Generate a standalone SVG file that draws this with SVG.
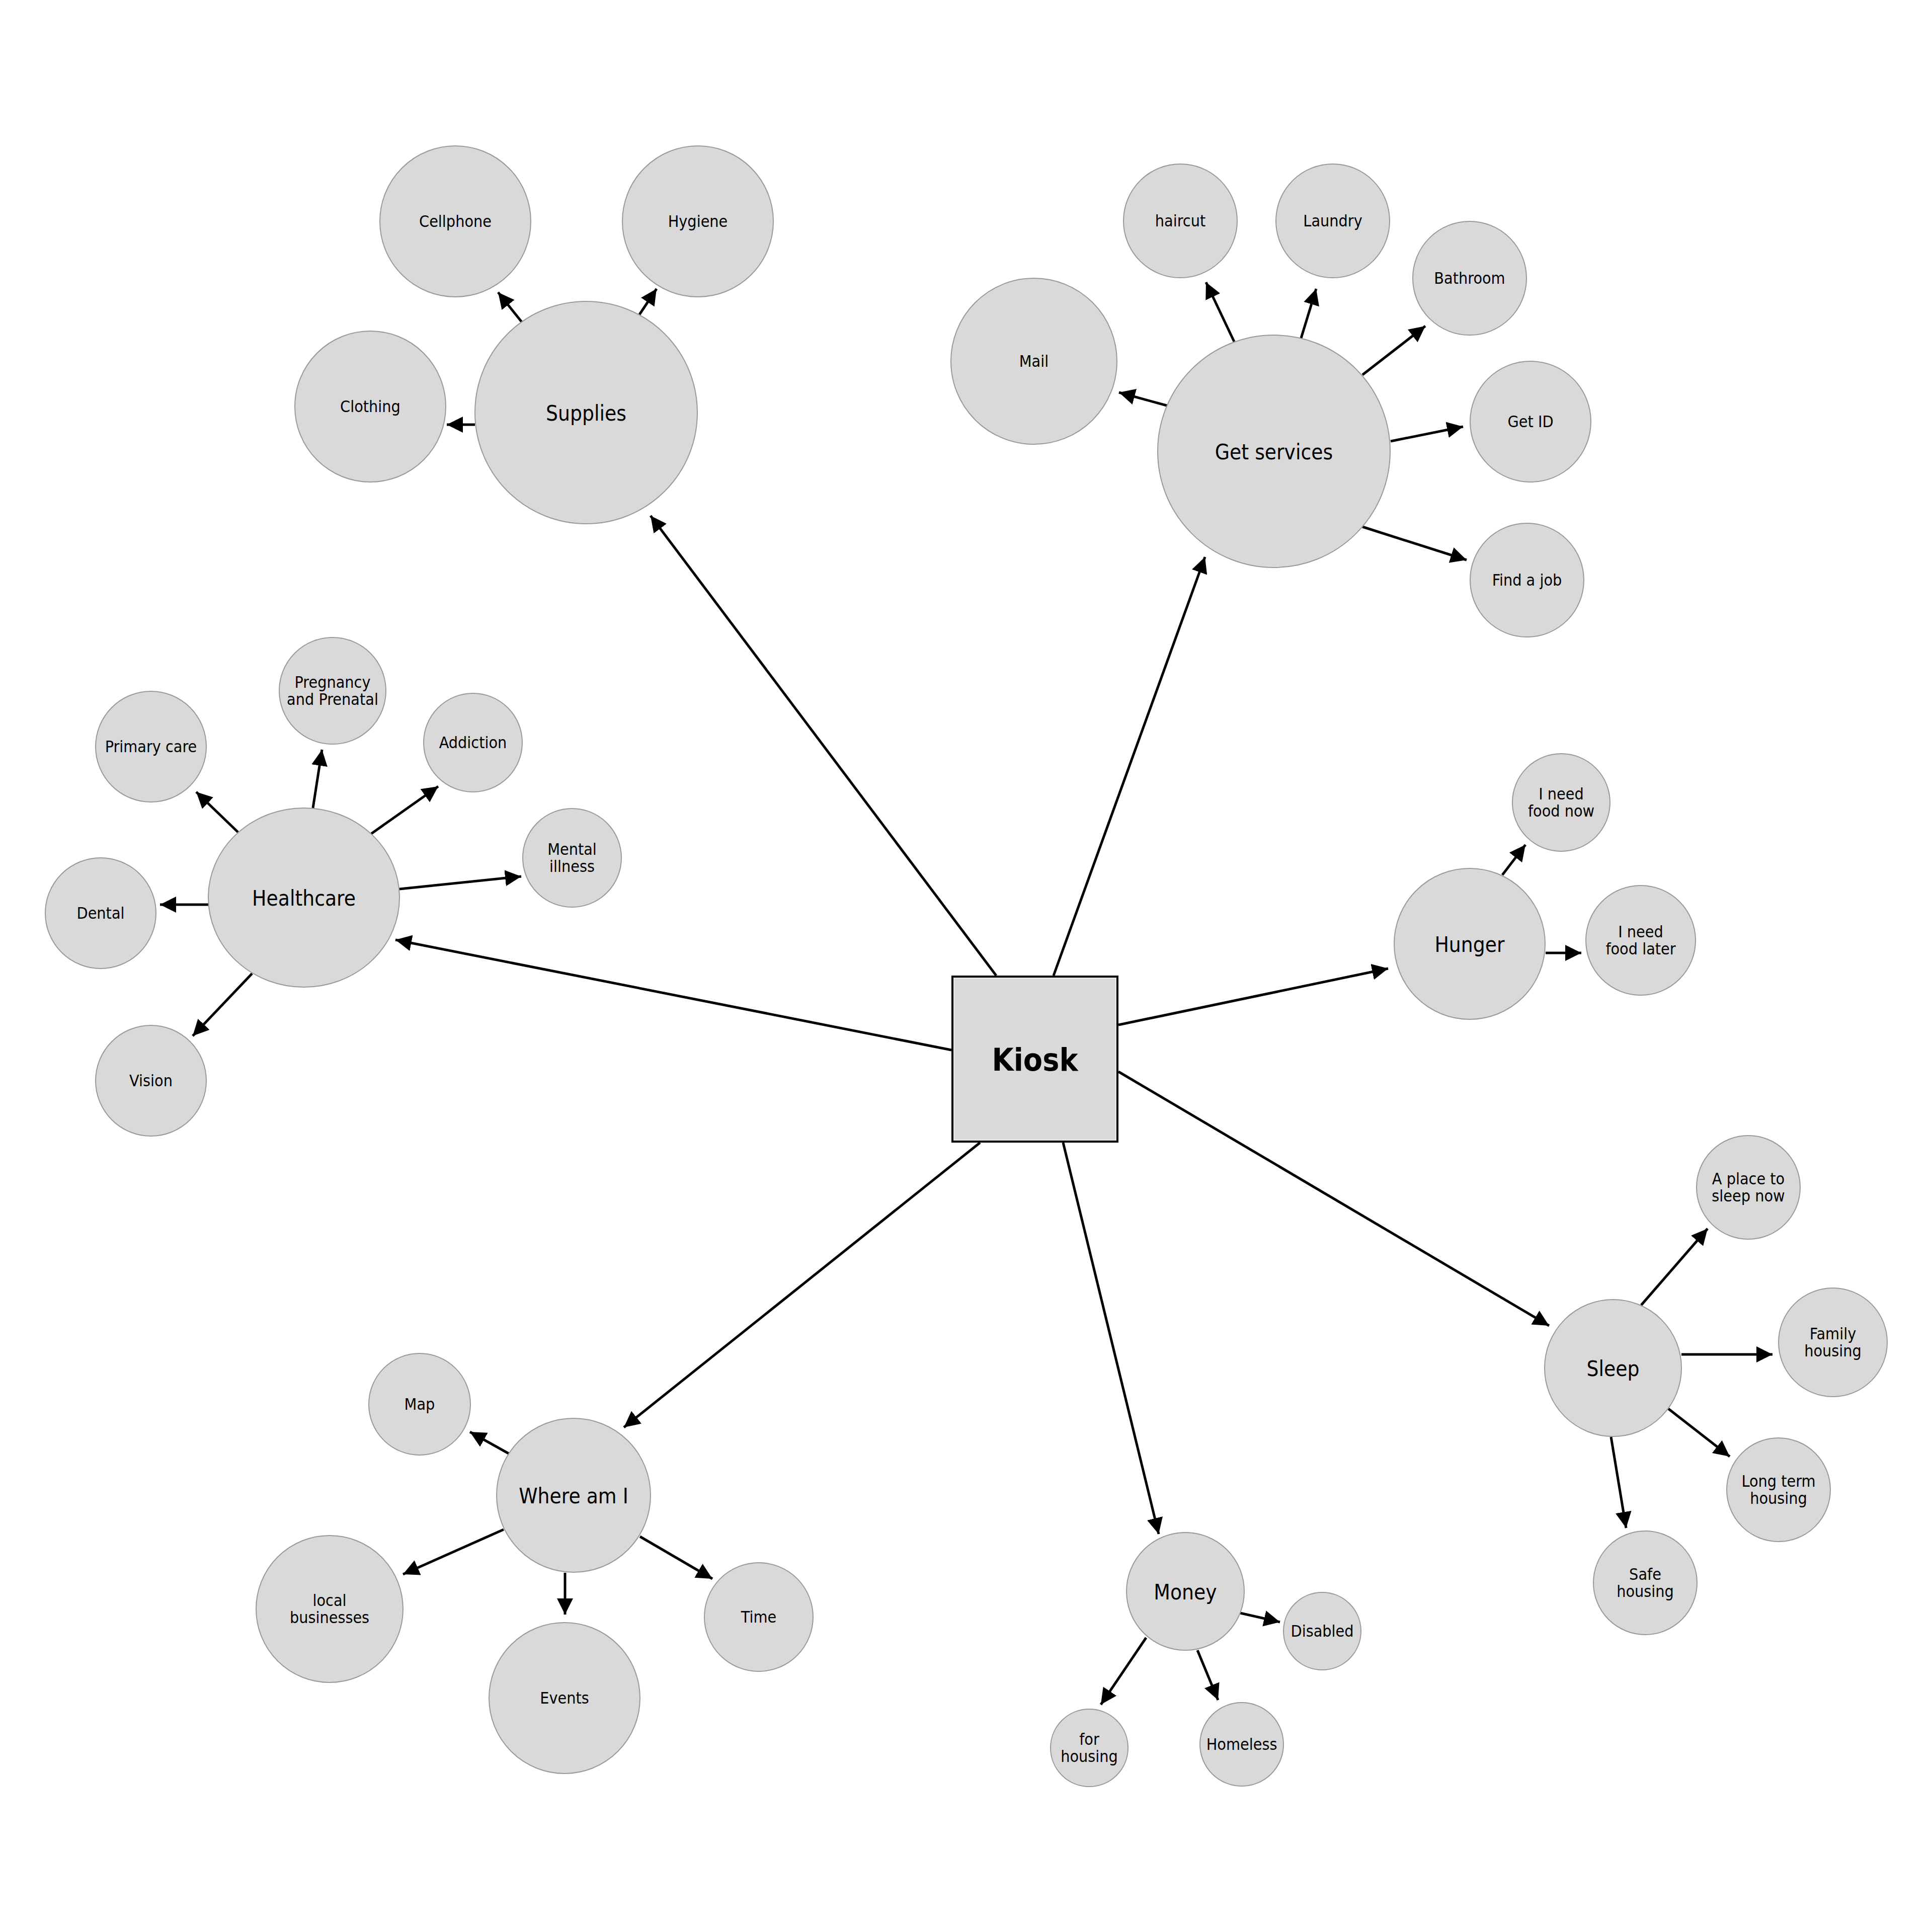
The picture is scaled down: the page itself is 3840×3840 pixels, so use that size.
<svg xmlns="http://www.w3.org/2000/svg" width="3840" height="3840" viewBox="0 0 3840 3840">
<style>
.n{fill:#d9d9d9;stroke:#999;stroke-width:2}
.t{font-family:"DejaVu Sans Condensed","Liberation Sans",sans-serif;font-size:32px;text-anchor:middle;fill:#000}
.tp{font-size:42px}
.tk{font-size:62px;font-weight:bold}
.c{stroke:#000;stroke-width:5;fill:none;marker-end:url(#ah)}
</style>
<defs>
<marker id="ah" markerUnits="userSpaceOnUse" markerWidth="32" markerHeight="32" refX="32" refY="16" orient="auto">
<path d="M0,0 L32,16 L0,32 z" fill="#000"/>
</marker>
</defs>
<rect width="3840" height="3840" fill="#fff"/>
<g id="connectors">
<line class="c" x1="1980" y1="1939" x2="1293" y2="1025"/>
<line class="c" x1="2094" y1="1939" x2="2395" y2="1107"/>
<line class="c" x1="1891" y1="2087" x2="786" y2="1868"/>
<line class="c" x1="2223" y1="2037" x2="2759" y2="1925"/>
<line class="c" x1="2223" y1="2130" x2="3079" y2="2635"/>
<line class="c" x1="2113" y1="2271" x2="2303" y2="3049"/>
<line class="c" x1="1948" y1="2271" x2="1240" y2="2837"/>
<line class="c" x1="1037" y1="640" x2="990" y2="581"/>
<line class="c" x1="1271" y1="625" x2="1305" y2="574"/>
<line class="c" x1="944" y1="844" x2="888" y2="844"/>
<line class="c" x1="2319" y1="806" x2="2224" y2="780"/>
<line class="c" x1="2453" y1="679" x2="2397" y2="561"/>
<line class="c" x1="2586" y1="672" x2="2616" y2="574"/>
<line class="c" x1="2708" y1="745" x2="2833" y2="648"/>
<line class="c" x1="2764" y1="877" x2="2908" y2="848"/>
<line class="c" x1="2708" y1="1047" x2="2915" y2="1113"/>
<line class="c" x1="473" y1="1654" x2="390" y2="1574"/>
<line class="c" x1="622" y1="1606" x2="640" y2="1490"/>
<line class="c" x1="738" y1="1657" x2="871" y2="1563"/>
<line class="c" x1="794" y1="1767" x2="1036" y2="1742"/>
<line class="c" x1="415" y1="1798" x2="318" y2="1798"/>
<line class="c" x1="501" y1="1935" x2="383" y2="2059"/>
<line class="c" x1="2986" y1="1739" x2="3032" y2="1679"/>
<line class="c" x1="3072" y1="1894" x2="3143" y2="1894"/>
<line class="c" x1="3262" y1="2594" x2="3394" y2="2442"/>
<line class="c" x1="3342" y1="2692" x2="3523" y2="2692"/>
<line class="c" x1="3316" y1="2800" x2="3438" y2="2895"/>
<line class="c" x1="3202" y1="2856" x2="3232" y2="3037"/>
<line class="c" x1="2465" y1="3206" x2="2544" y2="3224"/>
<line class="c" x1="2380" y1="3280" x2="2421" y2="3379"/>
<line class="c" x1="2278" y1="3255" x2="2188" y2="3388"/>
<line class="c" x1="1011" y1="2889" x2="934" y2="2846"/>
<line class="c" x1="1001" y1="3040" x2="801" y2="3129"/>
<line class="c" x1="1123" y1="3126" x2="1123" y2="3209"/>
<line class="c" x1="1272" y1="3054" x2="1416" y2="3138"/>
</g>
<g id="kiosk">
<rect x="1893" y="1941" width="328" height="328" fill="#d9d9d9" stroke="#000" stroke-width="4"/>
<rect x="1896.5" y="1944.5" width="321" height="321" fill="none" stroke="#efefef" stroke-width="1"/>
<text class="t tk" x="2057" y="2128">Kiosk</text>
</g>
<g id="supplies"><circle class="n" cx="1165" cy="820" r="221"/><text class="t tp" x="1165" y="836">Supplies</text></g>
<g id="cellphone"><circle class="n" cx="905" cy="440" r="150"/><text class="t" x="905" y="451">Cellphone</text></g>
<g id="hygiene"><circle class="n" cx="1387" cy="440" r="150"/><text class="t" x="1387" y="451">Hygiene</text></g>
<g id="clothing"><circle class="n" cx="736" cy="808" r="150"/><text class="t" x="736" y="819">Clothing</text></g>
<g id="getservices"><circle class="n" cx="2532" cy="897" r="231"/><text class="t tp" x="2532" y="913">Get services</text></g>
<g id="mail"><circle class="n" cx="2055" cy="718" r="165"/><text class="t" x="2055" y="729">Mail</text></g>
<g id="haircut"><circle class="n" cx="2346" cy="439" r="113"/><text class="t" x="2346" y="450">haircut</text></g>
<g id="laundry"><circle class="n" cx="2649" cy="439" r="113"/><text class="t" x="2649" y="450">Laundry</text></g>
<g id="bathroom"><circle class="n" cx="2921" cy="553" r="113"/><text class="t" x="2921" y="564">Bathroom</text></g>
<g id="getid"><circle class="n" cx="3042" cy="838" r="120"/><text class="t" x="3042" y="849">Get ID</text></g>
<g id="findajob"><circle class="n" cx="3035" cy="1153" r="113"/><text class="t" x="3035" y="1164">Find a job</text></g>
<g id="healthcare"><ellipse class="n" cx="604" cy="1784" rx="190" ry="178"/><text class="t tp" x="604" y="1800">Healthcare</text></g>
<g id="primarycare"><circle class="n" cx="300" cy="1484" r="110"/><text class="t" x="300" y="1495">Primary care</text></g>
<g id="pregnancy"><circle class="n" cx="661" cy="1373" r="106"/><text class="t" x="661" y="1367">Pregnancy</text><text class="t" x="661" y="1401">and Prenatal</text></g>
<g id="addiction"><circle class="n" cx="940" cy="1476" r="98"/><text class="t" x="940" y="1487">Addiction</text></g>
<g id="mentalillness"><circle class="n" cx="1137" cy="1705" r="98"/><text class="t" x="1137" y="1699">Mental</text><text class="t" x="1137" y="1733">illness</text></g>
<g id="dental"><circle class="n" cx="200" cy="1815" r="110"/><text class="t" x="200" y="1826">Dental</text></g>
<g id="vision"><circle class="n" cx="300" cy="2148" r="110"/><text class="t" x="300" y="2159">Vision</text></g>
<g id="hunger"><circle class="n" cx="2921" cy="1876" r="150"/><text class="t tp" x="2921" y="1892">Hunger</text></g>
<g id="foodnow"><circle class="n" cx="3103" cy="1595" r="97"/><text class="t" x="3103" y="1589">I need</text><text class="t" x="3103" y="1623">food now</text></g>
<g id="foodlater"><circle class="n" cx="3261" cy="1869" r="109"/><text class="t" x="3261" y="1863">I need</text><text class="t" x="3261" y="1897">food later</text></g>
<g id="sleep"><circle class="n" cx="3206" cy="2719" r="136"/><text class="t tp" x="3206" y="2735">Sleep</text></g>
<g id="sleepnow"><circle class="n" cx="3475" cy="2360" r="103"/><text class="t" x="3475" y="2354">A place to</text><text class="t" x="3475" y="2388">sleep now</text></g>
<g id="familyhousing"><circle class="n" cx="3643" cy="2668" r="108"/><text class="t" x="3643" y="2662">Family</text><text class="t" x="3643" y="2696">housing</text></g>
<g id="longterm"><circle class="n" cx="3535" cy="2961" r="103"/><text class="t" x="3535" y="2955">Long term</text><text class="t" x="3535" y="2989">housing</text></g>
<g id="safehousing"><circle class="n" cx="3270" cy="3146" r="103"/><text class="t" x="3270" y="3140">Safe</text><text class="t" x="3270" y="3174">housing</text></g>
<g id="money"><circle class="n" cx="2356" cy="3163" r="117"/><text class="t tp" x="2356" y="3179">Money</text></g>
<g id="disabled"><circle class="n" cx="2628" cy="3242" r="77"/><text class="t" x="2628" y="3253">Disabled</text></g>
<g id="homeless"><circle class="n" cx="2468" cy="3467" r="83"/><text class="t" x="2468" y="3478">Homeless</text></g>
<g id="forhousing"><circle class="n" cx="2165" cy="3474" r="77"/><text class="t" x="2165" y="3468">for</text><text class="t" x="2165" y="3502">housing</text></g>
<g id="whereami"><circle class="n" cx="1140" cy="2972" r="153"/><text class="t tp" x="1140" y="2988">Where am I</text></g>
<g id="map"><circle class="n" cx="834" cy="2791" r="101"/><text class="t" x="834" y="2802">Map</text></g>
<g id="localbusinesses"><circle class="n" cx="655" cy="3198" r="146"/><text class="t" x="655" y="3192">local</text><text class="t" x="655" y="3226">businesses</text></g>
<g id="events"><circle class="n" cx="1122" cy="3375" r="150"/><text class="t" x="1122" y="3386">Events</text></g>
<g id="time"><circle class="n" cx="1508" cy="3214" r="108"/><text class="t" x="1508" y="3225">Time</text></g>
</svg>
